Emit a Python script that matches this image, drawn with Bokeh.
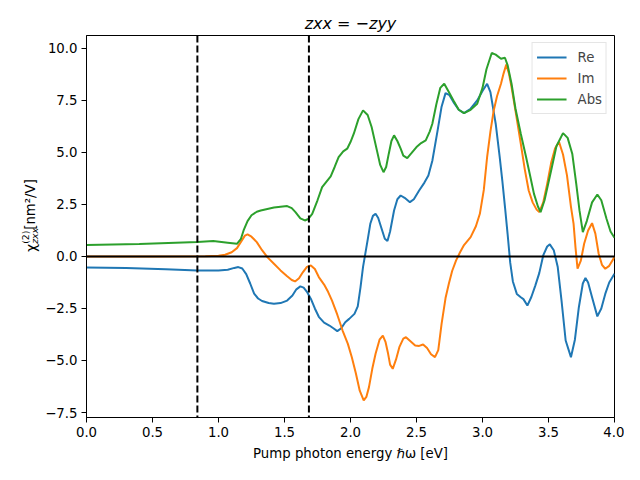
import math
from bokeh.plotting import figure
from bokeh.layouts import row
from bokeh.models import Span, FixedTicker, Legend, LegendItem, Range1d
from bokeh.core.properties import value
from bokeh.embed import file_html
from bokeh.resources import INLINE

# ---------------- data ----------------
re_x = [0.0, 0.3, 0.6, 0.84, 1.0, 1.07, 1.12, 1.15, 1.18, 1.21, 1.24, 1.27, 1.30, 1.33, 1.38,
        1.42, 1.47, 1.52, 1.56, 1.59, 1.62, 1.645, 1.67, 1.70, 1.73, 1.76, 1.80, 1.84, 1.87,
        1.90, 1.93, 1.96, 1.99, 2.03, 2.055, 2.076, 2.095, 2.11, 2.13, 2.15, 2.17, 2.19, 2.21,
        2.24, 2.26, 2.28, 2.30, 2.33, 2.355, 2.38, 2.41, 2.45, 2.48, 2.52, 2.56, 2.59, 2.62,
        2.66, 2.69, 2.72, 2.75, 2.78, 2.82, 2.86, 2.91, 2.96, 3.00, 3.035, 3.06, 3.10, 3.13,
        3.15, 3.17, 3.19, 3.21, 3.23, 3.26, 3.29, 3.31, 3.34, 3.37, 3.40, 3.43, 3.46, 3.49,
        3.51, 3.54, 3.57, 3.60, 3.63, 3.67, 3.70, 3.73, 3.76, 3.78, 3.80, 3.83, 3.87, 3.90,
        3.93, 3.96, 4.0]
re_y = [-0.53, -0.56, -0.61, -0.67, -0.68, -0.64, -0.55, -0.51, -0.58, -0.85, -1.30, -1.79,
        -2.02, -2.14, -2.24, -2.27, -2.24, -2.12, -1.88, -1.58, -1.44, -1.50, -1.70, -2.04,
        -2.50, -2.90, -3.18, -3.32, -3.45, -3.59, -3.45, -3.16, -3.00, -2.76, -2.40, -1.47,
        -0.50, 0.05, 0.80, 1.57, 1.95, 2.05, 1.85, 1.25, 0.85, 0.74, 1.20, 2.21, 2.75, 2.93,
        2.82, 2.61, 2.75, 3.17, 3.55, 3.89, 4.60, 6.06, 7.20, 7.85, 7.75, 7.42, 7.05, 6.89,
        7.10, 7.50, 7.95, 8.30, 7.90, 6.38, 4.80, 3.65, 2.40, 1.09, -0.30, -1.20, -1.80,
        -1.96, -2.05, -2.36, -1.95, -1.40, -0.80, 0.05, 0.48, 0.58, 0.30, -0.51, -2.20,
        -4.04, -4.84, -4.00, -2.44, -1.30, -1.03, -1.25, -1.96, -2.88, -2.50, -1.80, -1.25,
        -0.83]

im_x = [0.0, 0.5, 0.9, 1.0, 1.05, 1.10, 1.14, 1.17, 1.20, 1.22, 1.25, 1.29, 1.33, 1.37, 1.42,
        1.47, 1.52, 1.555, 1.58, 1.61, 1.64, 1.67, 1.70, 1.73, 1.76, 1.80, 1.83, 1.86, 1.90,
        1.94, 1.98, 2.01, 2.04, 2.07, 2.10, 2.12, 2.14, 2.165, 2.19, 2.22, 2.245, 2.265, 2.285,
        2.30, 2.32, 2.345, 2.37, 2.40, 2.42, 2.45, 2.49, 2.52, 2.55, 2.58, 2.61, 2.64, 2.665,
        2.69, 2.72, 2.745, 2.77, 2.80, 2.83, 2.86, 2.91, 2.95, 2.98, 3.01, 3.035, 3.06, 3.085,
        3.11, 3.14, 3.16, 3.18, 3.20, 3.22, 3.25, 3.29, 3.32, 3.35, 3.38, 3.41, 3.43, 3.46,
        3.49, 3.52, 3.55, 3.58, 3.61, 3.64, 3.67, 3.69, 3.705, 3.72, 3.745, 3.77, 3.80, 3.83,
        3.855, 3.88, 3.905, 3.93, 3.96, 4.0]
im_y = [0.0, 0.0, 0.01, 0.03, 0.08, 0.20, 0.40, 0.70, 1.00, 1.06, 0.95, 0.69, 0.30, -0.03,
        -0.35, -0.67, -0.95, -1.13, -1.20, -1.05, -0.75, -0.50, -0.43, -0.60, -0.99, -1.35,
        -1.70, -2.12, -2.80, -3.56, -4.20, -4.84, -5.60, -6.45, -6.92, -6.75, -6.28, -5.40,
        -4.68, -4.00, -3.80, -4.10, -4.68, -5.20, -5.40, -4.95, -4.36, -3.95, -3.88, -4.05,
        -4.28, -4.30, -4.23, -4.40, -4.70, -4.84, -4.50, -3.24, -2.00, -1.31, -0.70, -0.19,
        0.20, 0.55, 0.93, 1.45, 2.05, 3.20, 4.78, 6.00, 7.02, 7.70, 8.30, 8.80, 9.23, 8.80,
        8.14, 7.00, 5.42, 4.20, 3.17, 2.60, 2.25, 2.13, 2.60, 3.49, 4.50, 5.20, 5.50, 4.90,
        3.90, 2.40, 1.57, 0.40, -0.59, -0.20, 0.61, 1.25, 1.60, 1.10, 0.13, -0.40, -0.59,
        -0.45, -0.03]

abs_x = [0.0, 0.4, 0.84, 0.96, 1.07, 1.14, 1.17, 1.19, 1.22, 1.25, 1.29, 1.32, 1.42, 1.52,
         1.555, 1.583, 1.62, 1.654, 1.68, 1.71, 1.75, 1.785, 1.85, 1.88, 1.91, 1.945, 1.975,
         2.00, 2.025, 2.06, 2.095, 2.13, 2.16, 2.20, 2.225, 2.25, 2.27, 2.29, 2.31, 2.33,
         2.355, 2.38, 2.40, 2.43, 2.46, 2.50, 2.535, 2.57, 2.60, 2.62, 2.65, 2.68, 2.71,
         2.745, 2.78, 2.82, 2.86, 2.91, 2.96, 3.00, 3.03, 3.07, 3.10, 3.14, 3.17, 3.19, 3.22,
         3.25, 3.29, 3.33, 3.36, 3.39, 3.42, 3.44, 3.47, 3.52, 3.56, 3.61, 3.645, 3.68, 3.71,
         3.735, 3.76, 3.79, 3.83, 3.87, 3.90, 3.94, 3.97, 4.0]
abs_y = [0.55, 0.60, 0.70, 0.74, 0.66, 0.61, 0.85, 1.25, 1.70, 1.98, 2.15, 2.21, 2.35, 2.42,
         2.32, 2.13, 1.83, 1.73, 1.80, 2.05, 2.70, 3.33, 3.85, 4.30, 4.77, 5.05, 5.18, 5.50,
         5.90, 6.60, 7.02, 6.80, 6.22, 5.10, 4.40, 4.05, 4.30, 4.94, 5.55, 5.82, 5.55, 5.18,
         4.85, 4.73, 4.95, 5.26, 5.45, 5.58, 6.00, 6.38, 7.30, 8.10, 8.30, 7.90, 7.50, 7.05,
         6.89, 7.05, 7.34, 8.10, 9.00, 9.78, 9.70, 9.50, 9.55, 9.20, 8.30, 7.10, 5.90, 4.78,
         3.90, 3.01, 2.40, 2.13, 2.70, 4.13, 5.30, 5.93, 5.70, 4.94, 3.50, 2.20, 1.17, 1.70,
         2.60, 2.98, 2.70, 1.80, 1.20, 0.90]

vlines = [0.84, 1.685]
hline = 0.0

x_ticks = [0.0, 0.5, 1.0, 1.5, 2.0, 2.5, 3.0, 3.5, 4.0]
y_ticks = [-7.5, -5.0, -2.5, 0.0, 2.5, 5.0, 7.5, 10.0]

series_names = ["Re", "Im", "Abs"]
colors = ["#1f77b4", "#ff7f0e", "#2ca02c"]

FONT = "DejaVu Sans"
LAB_W = 40
TOTAL_H = 464

# ---------------- main figure ----------------
p = figure(output_backend="svg", toolbar_location=None,
           frame_width=528, frame_height=382,
           min_border_left=86 - LAB_W, min_border_right=10, min_border_top=35,
           min_border_bottom=TOTAL_H - 35 - 382,
           x_range=Range1d(0.0, 4.0), y_range=Range1d(-7.74, 10.62))
p.title.text = "zxx = \u2212zyy"
p.title.text_font = FONT
p.title.text_font_style = "italic"
p.title.text_font_size = "16px"
p.title.text_color = "black"
p.title.align = "center"
p.title.standoff = 5

p.xgrid.visible = False
p.ygrid.visible = False
p.outline_line_color = "black"
p.outline_line_width = 1
p.background_fill_color = "white"
p.border_fill_color = "white"

for ax in (p.xaxis[0], p.yaxis[0]):
    ax.axis_line_color = "black"
    ax.major_tick_line_color = "black"
    ax.major_tick_out = 5
    ax.major_tick_in = 0
    ax.minor_tick_line_color = None
    ax.major_label_text_font = FONT
    ax.major_label_text_font_size = "13.3px"
    ax.major_label_text_color = "black"
    ax.axis_label_text_font = FONT
    ax.axis_label_text_font_size = "13.3px"
    ax.axis_label_text_font_style = "normal"
    ax.axis_label_text_color = "black"
    ax.major_label_standoff = 4

p.xaxis.ticker = FixedTicker(ticks=x_ticks)
p.xaxis.major_label_overrides = {t: f"{t:.1f}" for t in x_ticks}
p.yaxis.ticker = FixedTicker(ticks=y_ticks)
p.yaxis.major_label_overrides = {t: f"{t:.1f}".replace("-", "\u2212") for t in y_ticks}
p.xaxis.axis_label = "Pump photon energy \u210f\u03c9 [eV]"
p.xaxis.axis_label_standoff = 6

renderers = []
for name, xs, ys, c in zip(series_names, [re_x, im_x, abs_x], [re_y, im_y, abs_y], colors):
    r = p.line(xs, ys, line_color=c, line_width=2)
    renderers.append(r)

p.add_layout(Span(location=hline, dimension="width", line_color="black", line_width=2))
for v in vlines:
    p.add_layout(Span(location=v, dimension="height", line_color="black", line_width=2,
                      line_dash="7 3"))

legend = Legend(items=[LegendItem(label=n, renderers=[r]) for n, r in zip(series_names, renderers)],
                location="top_right")
legend.margin = 7
legend.padding = 4
legend.spacing = 1
legend.glyph_width = 30
legend.glyph_height = 20
legend.label_height = 20
legend.label_standoff = 11
legend.label_text_font = FONT
legend.label_text_font_size = "13.3px"
legend.border_line_color = "#cccccc"
legend.border_line_width = 1
legend.background_fill_alpha = 0.8
p.add_layout(legend)

# ---------------- y-axis label strip: chi^(2)_zxx [nm^2/V] ----------------
lab = figure(output_backend="svg", toolbar_location=None, width=LAB_W, height=TOTAL_H,
             min_border=0, x_range=Range1d(0, LAB_W), y_range=Range1d(0, TOTAL_H))
lab.axis.visible = False
lab.xgrid.visible = False
lab.ygrid.visible = False
lab.outline_line_color = None
lab.background_fill_color = "white"
lab.border_fill_color = "white"

ang = math.pi / 2
pieces = [  # (text, x baseline, y start, size, style)
    ("\u03c7", 30, 201, "14px", "normal"),
    ("(2)", 24.5, 211, "9.3px", "normal"),
    ("zxx", 33.5, 211, "9.3px", "italic"),
    (" [nm\u00b2/V]", 30, 228, "13.3px", "normal"),
]
for t, xx, yy, fs, st in pieces:
    lab.text(x=[xx], y=[yy], text=[t], angle=ang, text_font=value(FONT), text_font_size=fs,
             text_font_style=st, text_align="left", text_baseline="alphabetic",
             text_color="black")

layout = row(lab, p, spacing=0)
open("out.html", "w").write(file_html(layout, INLINE))
